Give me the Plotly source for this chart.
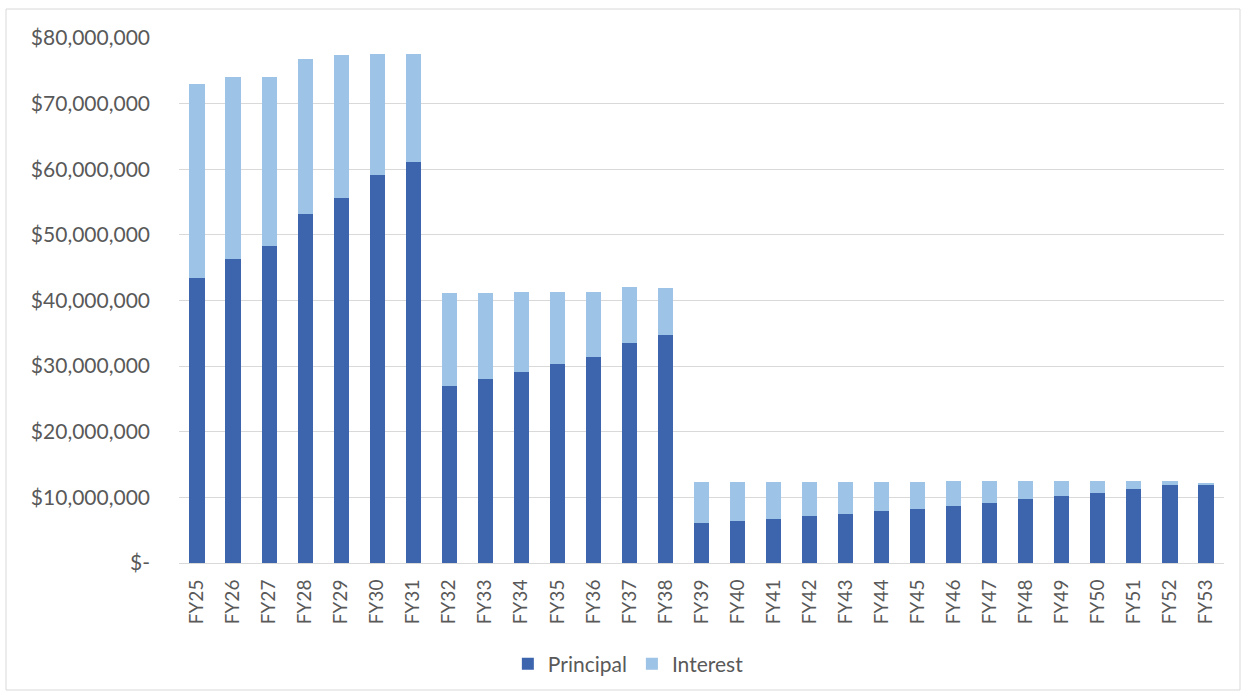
import plotly.graph_objects as go

# Fiscal years of the debt service schedule
years = ["FY25", "FY26", "FY27", "FY28", "FY29", "FY30", "FY31", "FY32", "FY33", "FY34",
         "FY35", "FY36", "FY37", "FY38", "FY39", "FY40", "FY41", "FY42", "FY43", "FY44",
         "FY45", "FY46", "FY47", "FY48", "FY49", "FY50", "FY51", "FY52", "FY53"]

# Annual principal payments ($)
principal = [43_460_000, 46_300_000, 48_340_000, 53_200_000, 55_650_000, 59_060_000, 61_140_000,
             27_000_000, 28_000_000, 29_130_000, 30_300_000, 31_420_000, 33_550_000, 34_730_000,
             6_140_000, 6_450_000, 6_750_000, 7_110_000, 7_520_000, 7_880_000, 8_280_000,
             8_740_000, 9_200_000, 9_700_000, 10_260_000, 10_720_000, 11_330_000, 11_900_000,
             11_900_000]

# Annual interest payments ($)
interest = [29_540_000, 27_750_000, 25_710_000, 23_650_000, 21_700_000, 18_540_000, 16_460_000,
            14_170_000, 13_100_000, 12_150_000, 10_980_000, 9_910_000, 8_580_000, 7_250_000,
            6_160_000, 5_850_000, 5_550_000, 5_240_000, 4_830_000, 4_470_000, 4_070_000,
            3_710_000, 3_250_000, 2_750_000, 2_190_000, 1_730_000, 1_120_000, 600_000,
            300_000]

# Y axis ticks in accounting style
y_tick_values = [0, 10_000_000, 20_000_000, 30_000_000, 40_000_000, 50_000_000,
                 60_000_000, 70_000_000, 80_000_000]
y_tick_labels = ["$-", "$10,000,000", "$20,000,000", "$30,000,000", "$40,000,000",
                 "$50,000,000", "$60,000,000", "$70,000,000", "$80,000,000"]

FONT = "Lato, 'Open Sans', sans-serif"
TEXT_GREY = "#595959"

fig = go.Figure()
fig.add_trace(go.Bar(x=years, y=principal, name="Principal",
                     marker=dict(color="#3D65AE", line=dict(width=0))))
fig.add_trace(go.Bar(x=years, y=interest, name="Interest",
                     marker=dict(color="#9DC3E6", line=dict(width=0))))

W, H = 1246, 696
L, R, T, B = 179, 22, 38, 133
pw, ph = W - L - R, H - T - B

fig.update_layout(
    barmode="stack",
    bargap=0.58,
    width=W, height=H,
    margin=dict(l=L, r=R, t=T, b=B),
    paper_bgcolor="white",
    plot_bgcolor="white",
    font=dict(family=FONT, size=19, color=TEXT_GREY),
    showlegend=True,
    legend=dict(orientation="h", x=0.43, xanchor="center", y=-(664 - 563) / ph,
                yanchor="middle", font=dict(size=21, color=TEXT_GREY),
                itemwidth=30, traceorder="normal"),
    xaxis=dict(tickangle=-90, showgrid=False, showline=True, linecolor="#d9d9d9",
               linewidth=1, ticks="", tickfont=dict(size=19, color=TEXT_GREY),
               ticklabelstandoff=8),
    yaxis=dict(range=[0, 80_000_000], tickvals=y_tick_values, ticktext=y_tick_labels,
               showgrid=True, gridcolor="#d9d9d9", gridwidth=1, zeroline=False,
               showline=False, ticks="", tickfont=dict(size=21, color=TEXT_GREY),
               ticklabelstandoff=28),
    shapes=[dict(type="rect", xref="paper", yref="paper",
                 x0=(6 - L) / pw, x1=(1240 - L) / pw,
                 y0=-(690 - (H - B)) / ph, y1=1 + (T - 9) / ph,
                 line=dict(color="#d9d9d9", width=1), fillcolor="rgba(0,0,0,0)",
                 layer="below")],
)

fig.write_html("out.html")
